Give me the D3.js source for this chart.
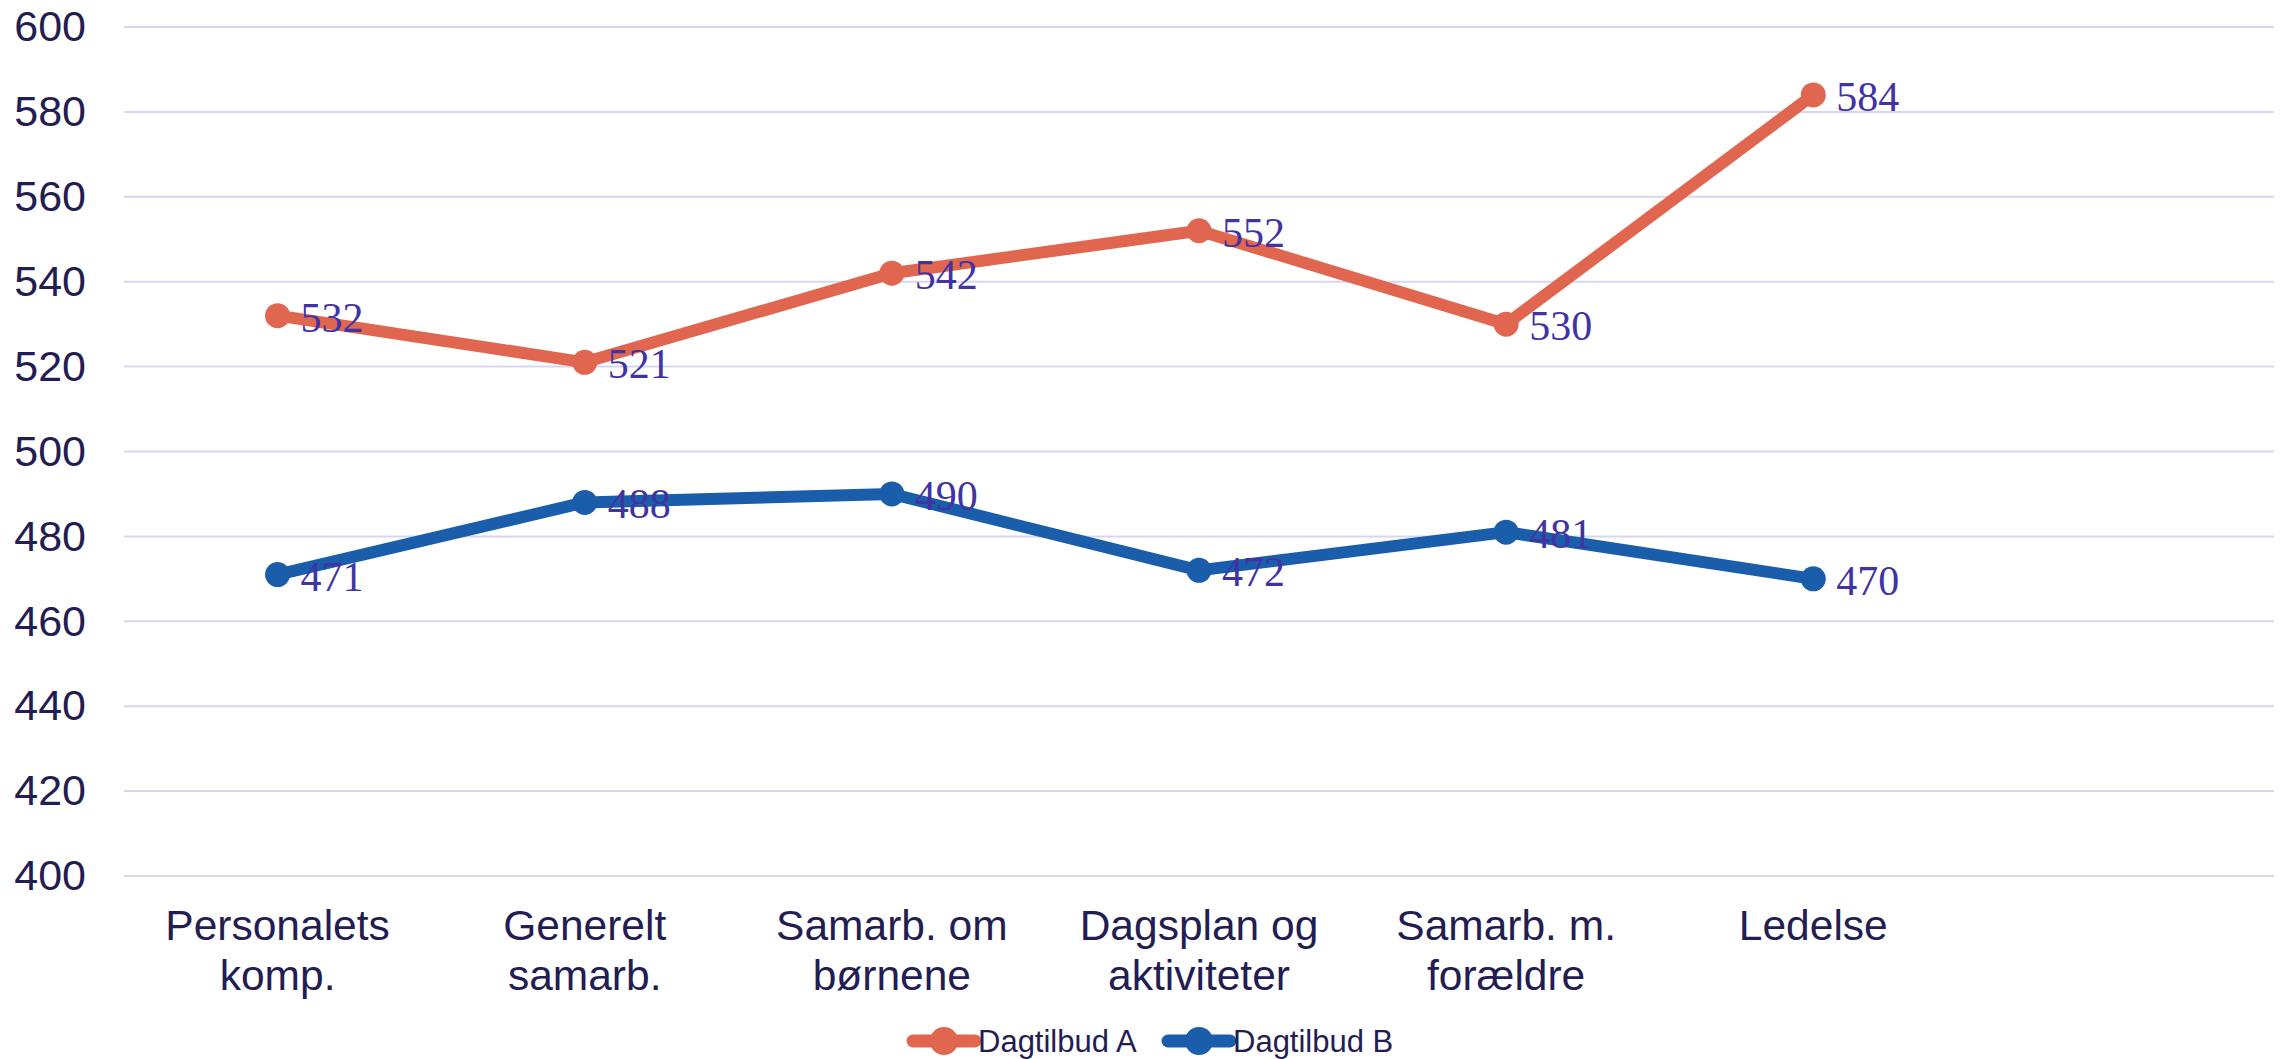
<!DOCTYPE html>
<html>
<head>
<meta charset="utf-8">
<script src="https://cdn.jsdelivr.net/npm/d3@7"></script>
<style>
  body { margin: 0; background: #fff; }
</style>
</head>
<body>
<div id="chart"></div>
<script>
var categories = ["Personalets komp.", "Generelt samarb.", "Samarb. om børnene",
  "Dagsplan og aktiviteter", "Samarb. m. forældre", "Ledelse", ""];
var categoryLines = [["Personalets", "komp."], ["Generelt", "samarb."], ["Samarb. om", "børnene"],
  ["Dagsplan og", "aktiviteter"], ["Samarb. m.", "forældre"], ["Ledelse"], []];
var seriesNames = ["Dagtilbud A", "Dagtilbud B"];
var valuesA = [532, 521, 542, 552, 530, 584];
var valuesB = [471, 488, 490, 472, 481, 470];
var yTicks = [400, 420, 440, 460, 480, 500, 520, 540, 560, 580, 600];

var width = 2282;
var height = 1059;
var colors = ["#e0664f", "#1a5dab"];
var textColor = "#231d52";
var labelColor = "#4233a3";

var svg = d3.select("#chart")
  .append("svg")
  .attr("width", width)
  .attr("height", height);

var x = d3.scaleBand()
  .domain(d3.range(categories.length))
  .range([124, 2274]);

var y = d3.scaleLinear()
  .domain([400, 600])
  .range([876, 27]);

var cx = function (i) { return x(i) + x.bandwidth() / 2; };

// gridlines
svg.append("g")
  .selectAll("line")
  .data(yTicks)
  .enter()
  .append("line")
  .attr("x1", 124)
  .attr("x2", 2274)
  .attr("y1", function (d) { return y(d); })
  .attr("y2", function (d) { return y(d); })
  .attr("stroke", "#d8d5f1")
  .attr("stroke-width", 2);

// y axis labels
var yAxis = d3.axisLeft(y).tickValues(yTicks).tickSize(0).tickPadding(38);
var yg = svg.append("g")
  .attr("transform", "translate(124,0)")
  .call(yAxis);
yg.select(".domain").remove();
yg.selectAll("text")
  .style("font-family", "Liberation Sans, Arial, sans-serif")
  .style("font-size", "43px")
  .attr("fill", textColor);

// x axis labels
var xg = svg.append("g");
xg.selectAll("text")
  .data(categoryLines)
  .enter()
  .append("text")
  .attr("x", function (d, i) { return cx(i); })
  .attr("y", 940)
  .attr("text-anchor", "middle")
  .style("font-family", "Liberation Sans, Arial, sans-serif")
  .style("font-size", "42.5px")
  .attr("fill", textColor)
  .each(function (d, i) {
    d3.select(this).selectAll("tspan")
      .data(d)
      .enter()
      .append("tspan")
      .attr("x", cx(i))
      .attr("dy", function (t, j) { return j === 0 ? 0 : 50; })
      .text(function (t) { return t; });
  });

// lines
var line = d3.line()
  .x(function (d, i) { return cx(i); })
  .y(function (d) { return y(d); });

var allSeries = [valuesA, valuesB];

allSeries.forEach(function (vals, s) {
  var g = svg.append("g");
  g.append("path")
    .datum(vals)
    .attr("d", line)
    .attr("fill", "none")
    .attr("stroke", colors[s])
    .attr("stroke-width", 12)
    .attr("stroke-linejoin", "round");
  g.selectAll("circle")
    .data(vals)
    .enter()
    .append("circle")
    .attr("cx", function (d, i) { return cx(i); })
    .attr("cy", function (d) { return y(d); })
    .attr("r", 12.5)
    .attr("fill", colors[s]);
});

// data labels
allSeries.forEach(function (vals, s) {
  svg.append("g")
    .selectAll("text")
    .data(vals)
    .enter()
    .append("text")
    .attr("x", function (d, i) { return cx(i) + 23; })
    .attr("y", function (d) { return y(d) + 16; })
    .style("font-family", "Liberation Serif, Times New Roman, serif")
    .style("font-size", "42px")
    .attr("fill", labelColor)
    .text(function (d) { return d; });
});

// legend
var legendX = [913, 1168];
var legend = svg.append("g").attr("transform", "translate(0,1041)");
seriesNames.forEach(function (name, s) {
  var lg = legend.append("g").attr("transform", "translate(" + legendX[s] + ",0)");
  lg.append("line")
    .attr("x1", 0)
    .attr("x2", 62)
    .attr("stroke", colors[s])
    .attr("stroke-width", 13)
    .attr("stroke-linecap", "round");
  lg.append("circle")
    .attr("cx", 31)
    .attr("r", 14)
    .attr("fill", colors[s]);
  lg.append("text")
    .attr("x", 65)
    .attr("dy", "0.36em")
    .style("font-family", "Liberation Sans, Arial, sans-serif")
    .style("font-size", "31px")
    .attr("fill", textColor)
    .text(name);
});
</script>
</body>
</html>
